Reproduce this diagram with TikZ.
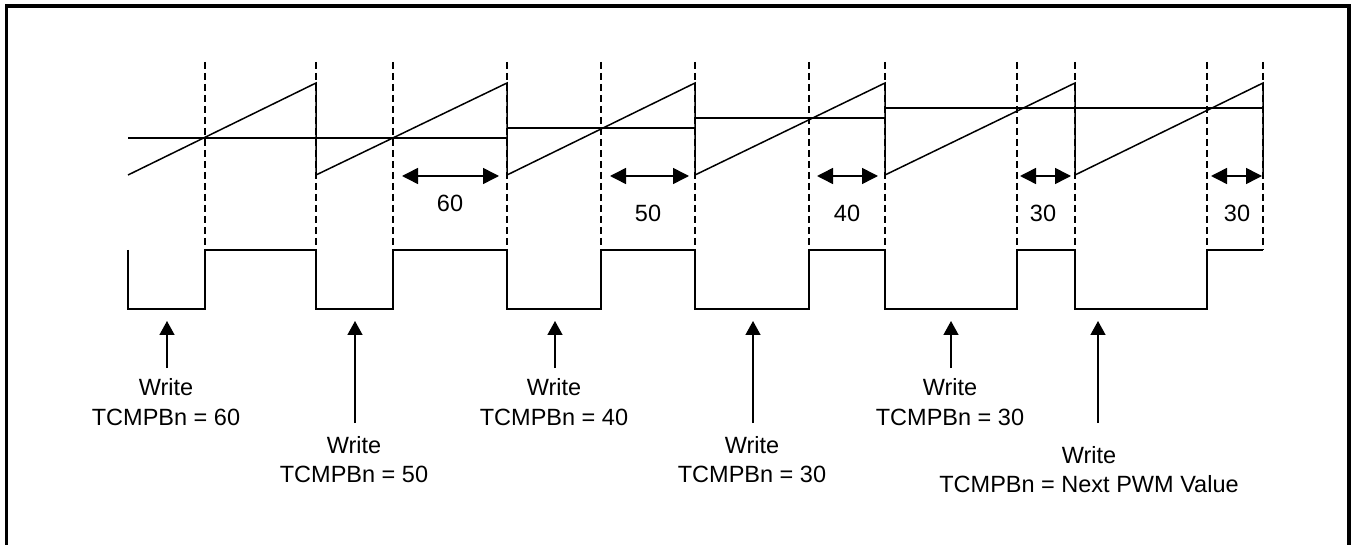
\documentclass[tikz,border=0pt]{standalone}
\usepackage{fontspec}
\setmainfont{Liberation Sans}
\usetikzlibrary{arrows.meta}
\begin{document}
\begin{tikzpicture}[x=1pt,y=-1pt,
  wave/.style={line width=1.5pt, line join=miter},
  guide/.style={line width=1.5pt, dash pattern=on 7pt off 4pt},
  span/.style={line width=1.5pt, {Triangle[length=16pt,width=16pt]}-{Triangle[length=16pt,width=16pt]}},
  wr/.style={line width=1.5pt, -{Triangle[length=14pt,width=15pt]}},
  lbl/.style={font=\fontsize{23.5}{28}\selectfont, inner sep=0pt, anchor=base}]
\useasboundingbox (0,0) rectangle (1355,545);
% frame (open at the bottom)
\draw[line width=3.6pt] (6.5,545) -- (6.5,6) -- (1349,6) -- (1349,545);
% dashed guides
\foreach \x in {205,316,393,507,601,695,809,885,1017,1075,1207,1263}
  \draw[guide] (\x,62) -- (\x,250);
% compare levels
\draw[wave] (128,138) -- (507,138);
\draw[wave] (507,128) -- (695,128);
\draw[wave] (695,118) -- (885,118);
\draw[wave] (885,108) -- (1263,108);
% sawtooth counter
\draw[wave] (128,175) -- (316,83) -- (316,175) -- (507,83) -- (507,175) -- (695,83) -- (695,175)
  -- (885,83) -- (885,175) -- (1075,83) -- (1075,175) -- (1263,83) -- (1263,175);
% PWM output
\draw[wave] (128,250) -- (128,309) -- (205,309) -- (205,250) -- (316,250) -- (316,309) -- (393,309)
  -- (393,250) -- (507,250) -- (507,309) -- (601,309) -- (601,250) -- (695,250) -- (695,309)
  -- (809,309) -- (809,250) -- (885,250) -- (885,309) -- (1017,309) -- (1017,250) -- (1075,250)
  -- (1075,309) -- (1207,309) -- (1207,250) -- (1263,250);
% dead-time spans
\coordinate (s1a) at (402,176); \coordinate (s1b) at (499,176);
\coordinate (s2a) at (610,176); \coordinate (s2b) at (689,176);
\coordinate (s3a) at (817,176); \coordinate (s3b) at (878,176);
\coordinate (s4a) at (1020,176); \coordinate (s4b) at (1071,176);
\coordinate (s5a) at (1211,176); \coordinate (s5b) at (1262,176);
\draw[span] (s1a) -- (s1b);
\draw[span] (s2a) -- (s2b);
\draw[span] (s3a) -- (s3b);
\draw[span] (s4a) -- (s4b);
\draw[span] (s5a) -- (s5b);
\node[lbl] (n1) at (450,212) {60};
\node[lbl] (n2) at (648,222) {50};
\node[lbl] (n3) at (847,222) {40};
\node[lbl] (n4) at (1043,222) {30};
\node[lbl] (n5) at (1237,222) {30};
% write arrows
\coordinate (t1) at (167,368); \coordinate (h1) at (167,321);
\coordinate (t2) at (355,423); \coordinate (h2) at (355,321);
\coordinate (t3) at (555,368); \coordinate (h3) at (555,321);
\coordinate (t4) at (753,423); \coordinate (h4) at (753,321);
\coordinate (t5) at (951,368); \coordinate (h5) at (951,321);
\coordinate (t6) at (1098,423); \coordinate (h6) at (1098,321);
\draw[wr] (t1) -- (h1);
\draw[wr] (t2) -- (h2);
\draw[wr] (t3) -- (h3);
\draw[wr] (t4) -- (h4);
\draw[wr] (t5) -- (h5);
\draw[wr] (t6) -- (h6);
% write labels
\node[lbl] (w1a) at (166,395) {Write};
\node[lbl] (w1b) at (166,425) {TCMPBn = 60};
\node[lbl] (w2a) at (354,453) {Write};
\node[lbl] (w2b) at (354,482) {TCMPBn = 50};
\node[lbl] (w3a) at (554,395) {Write};
\node[lbl] (w3b) at (554,425) {TCMPBn = 40};
\node[lbl] (w4a) at (752,453) {Write};
\node[lbl] (w4b) at (752,482) {TCMPBn = 30};
\node[lbl] (w5a) at (950,395) {Write};
\node[lbl] (w5b) at (950,425) {TCMPBn = 30};
\node[lbl] (w6a) at (1089,463) {Write};
\node[lbl] (w6b) at (1089,492) {TCMPBn = Next PWM Value};
\end{tikzpicture}
\end{document}
